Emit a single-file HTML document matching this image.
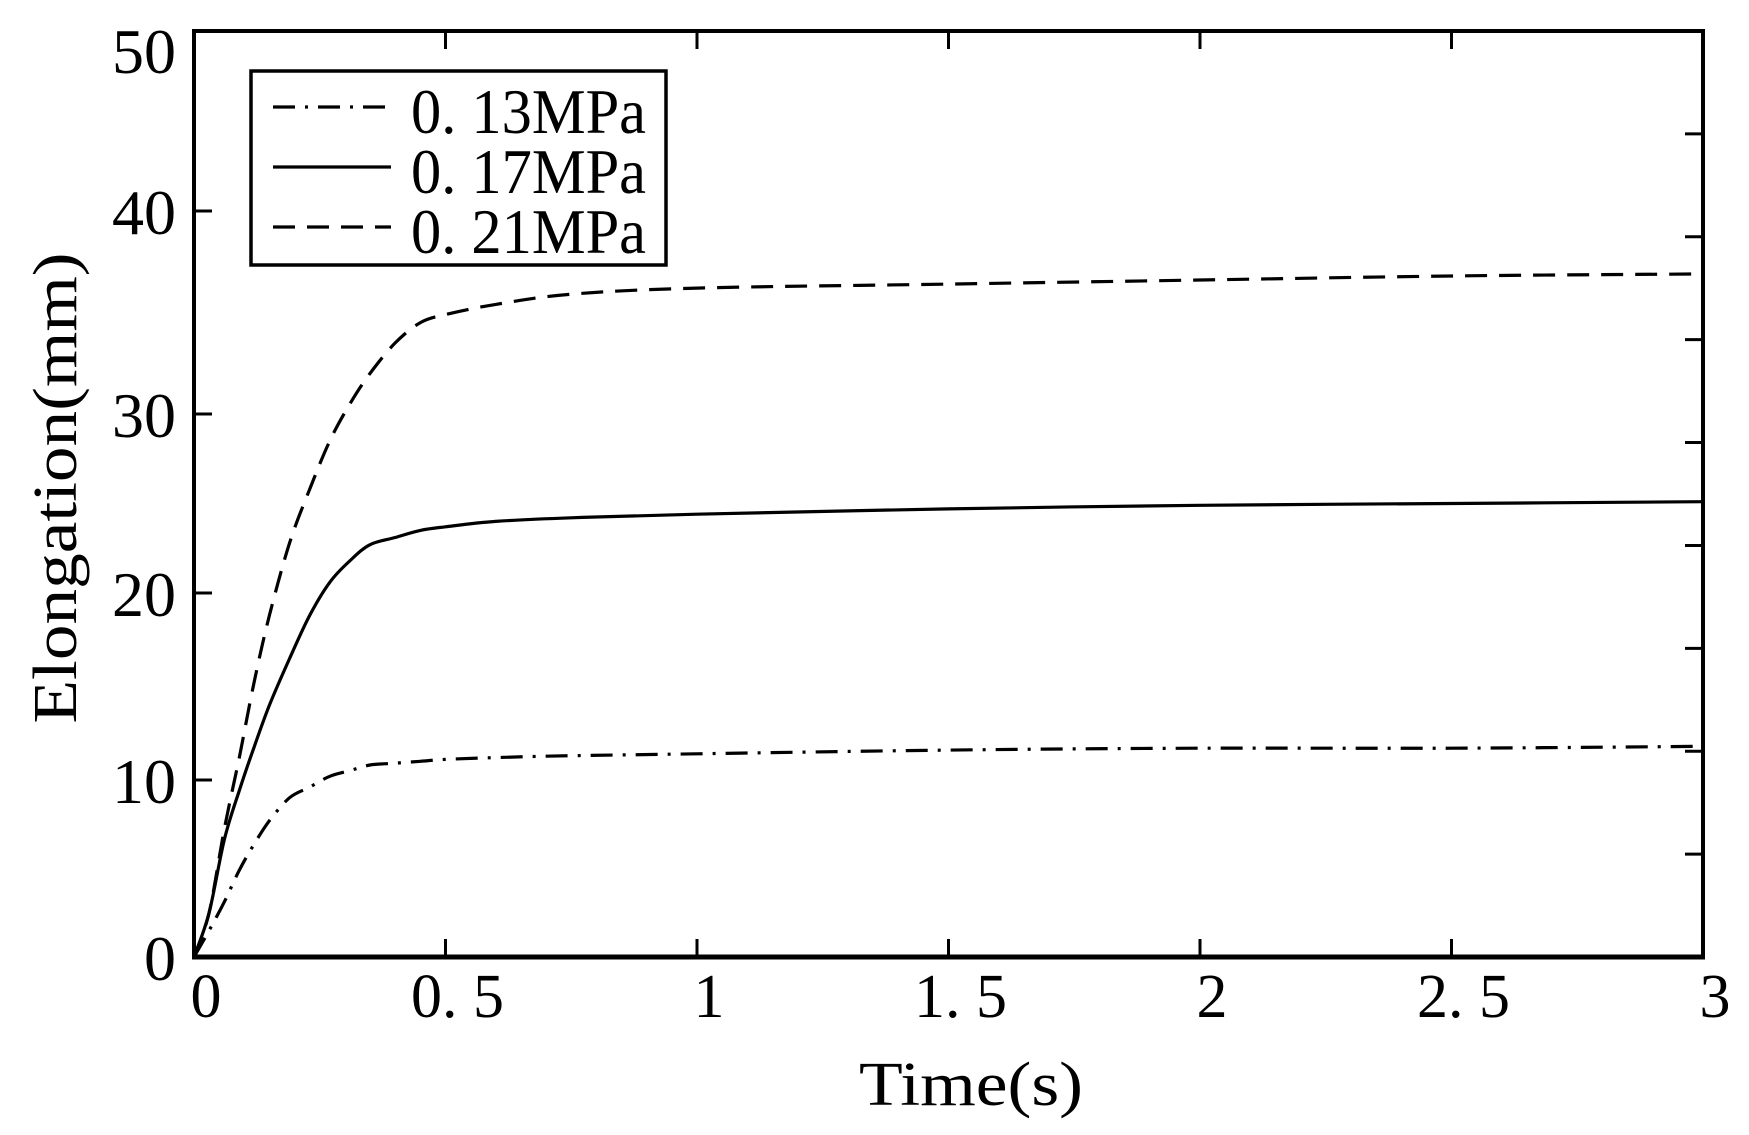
<!DOCTYPE html>
<html><head><meta charset="utf-8"><style>
html,body{margin:0;padding:0;background:#fff}
svg{display:block}
text{font-family:"Liberation Serif","Noto Serif CJK SC",serif;fill:#000}
</style></head><body>
<svg id="chart" width="1749" height="1135" viewBox="0 0 1749 1135" xmlns="http://www.w3.org/2000/svg">
<g id="marks"></g>
<g id="axes"></g>
</svg>
<script>
const times = [0,0.03,0.06,0.09,0.12,0.15,0.19,0.23,0.27,0.31,0.35,0.4,0.45,0.5,0.6,0.75,1.0,1.5,2.0,2.5,3.0];
const series013 = [0,1.5,3.1,4.9,6.4,7.7,9.0,9.6,10.2,10.5,10.8,10.9,11.0,11.1,11.2,11.3,11.4,11.6,11.7,11.7,11.8];
const series017 = [0,2.5,6.6,9.4,11.8,14.0,16.5,18.8,20.6,21.8,22.7,23.1,23.5,23.7,24.0,24.2,24.4,24.7,24.9,25.0,25.1];
const series021 = [0,2.5,7.2,11.2,15.3,18.8,22.8,25.8,28.5,30.5,32.0,33.5,34.5,34.9,35.4,35.9,36.2,36.4,36.6,36.8,36.9];
const xTicks = [0,0.5,1,1.5,2,2.5,3];
const xTickLabels = ["0","0. 5","1","1. 5","2","2. 5","3"];
const yTicks = [0,10,20,30,40,50];
const yTickLabels = ["0","10","20","30","40","50"];
const legendLabels = ["0. 13MPa","0. 17MPa","0. 21MPa"];

const L=194,R=1703,T=31,B=957;
const xs = t => L + (t/3)*(R-L);
// y-axis calibration (reference axis is slightly non-uniform)
const yCal = [957,780,593,414,211,31];
const ys = v => { const i=Math.max(0,Math.min(4,Math.floor(v/10))); const f=(v-i*10)/10; return yCal[i]+(yCal[i+1]-yCal[i])*f; };
const NS="http://www.w3.org/2000/svg";
const marks=document.getElementById('marks'), axes=document.getElementById('axes');
function mk(tag, attrs, parent){const e=document.createElementNS(NS,tag);for(const k in attrs)e.setAttribute(k,attrs[k]);parent.appendChild(e);return e;}

function smoothPath(px){
  let d="M"+px[0][0].toFixed(1)+","+px[0][1].toFixed(1);
  for(let i=0;i<px.length-1;i++){
    const p0=px[Math.max(0,i-1)],p1=px[i],p2=px[i+1],p3=px[Math.min(px.length-1,i+2)];
    const c1=[p1[0]+(p2[0]-p0[0])/6,p1[1]+(p2[1]-p0[1])/6];
    const c2=[p2[0]-(p3[0]-p1[0])/6,p2[1]-(p3[1]-p1[1])/6];
    d+=` C${c1[0].toFixed(1)},${c1[1].toFixed(1)} ${c2[0].toFixed(1)},${c2[1].toFixed(1)} ${p2[0].toFixed(1)},${p2[1].toFixed(1)}`;
  }
  return d;
}

const styles=[
 {d:series013, dash:"22 10 3 10", name:"line-0-13mpa"},
 {d:series017, dash:"", name:"line-0-17mpa"},
 {d:series021, dash:"22 12", name:"line-0-21mpa"}];
styles.forEach(s=>{
  const px=times.map((t,i)=>[xs(t),ys(s.d[i])]);
  const p=mk('path',{d:smoothPath(px),fill:"none",stroke:"#000","stroke-width":3.2,"stroke-dasharray":s.dash,"stroke-linejoin":"round"},marks);
  
  
});

const fr=mk('rect',{x:L,y:T,width:R-L,height:B-T,fill:"none",stroke:"#000","stroke-width":4},axes);


mk('line',{x1:L-2,x2:R+2,y1:B,y2:B,stroke:"#000","stroke-width":5},axes);

xTicks.forEach((t,i)=>{
  const x=xs(t);
  if(i>0&&i<xTicks.length-1){
    mk('line',{x1:x,x2:x,y1:B,y2:B-18,stroke:"#000","stroke-width":3},axes);
    mk('line',{x1:x,x2:x,y1:T,y2:T+18,stroke:"#000","stroke-width":3},axes);
  }
  const tx=mk('text',{x:x+12,y:1017,"font-size":62,"text-anchor":"middle"},axes);
  tx.textContent=xTickLabels[i];
  
  
});
yTicks.forEach((v,i)=>{
  const y=ys(v);
  if(i>0&&i<yTicks.length-1) mk('line',{x1:L,x2:L+18,y1:y,y2:y,stroke:"#000","stroke-width":3},axes);
  const ty = i===yTicks.length-1 ? 50 : y;
  const tx=mk('text',{x:176,y:ty+23,"font-size":64,"text-anchor":"end"},axes);
  tx.textContent=yTickLabels[i];
  
  
});
for(let k=1;k<9;k++){const y=T+k*(B-T)/9;mk('line',{x1:R,x2:R-18,y1:y,y2:y,stroke:"#000","stroke-width":3},axes);}

const lg=mk('g',{},axes);


mk('rect',{x:251,y:71,width:415,height:194,fill:"#fff",stroke:"#000","stroke-width":3.5},lg);
styles.forEach((s,i)=>{
  const y=107+i*60;
  mk('line',{x1:273,x2:391,y1:y,y2:y,stroke:"#000","stroke-width":3.2,"stroke-dasharray":s.dash},lg);
  const tx=mk('text',{x:411,y:133+i*60,"font-size":64,textLength:235,lengthAdjust:"spacingAndGlyphs"},lg);
  tx.textContent=legendLabels[i];
  
  
});

const xl=mk('text',{x:971,y:1105,"font-size":62,"text-anchor":"middle",textLength:224,lengthAdjust:"spacingAndGlyphs"},axes);
xl.textContent="Time(s)";


const yl=mk('text',{x:0,y:0,"font-size":62,"text-anchor":"middle",textLength:471,lengthAdjust:"spacingAndGlyphs",transform:"translate(76,488) rotate(-90)"},axes);
yl.textContent="Elongation(mm)";


</script>
</body></html>
